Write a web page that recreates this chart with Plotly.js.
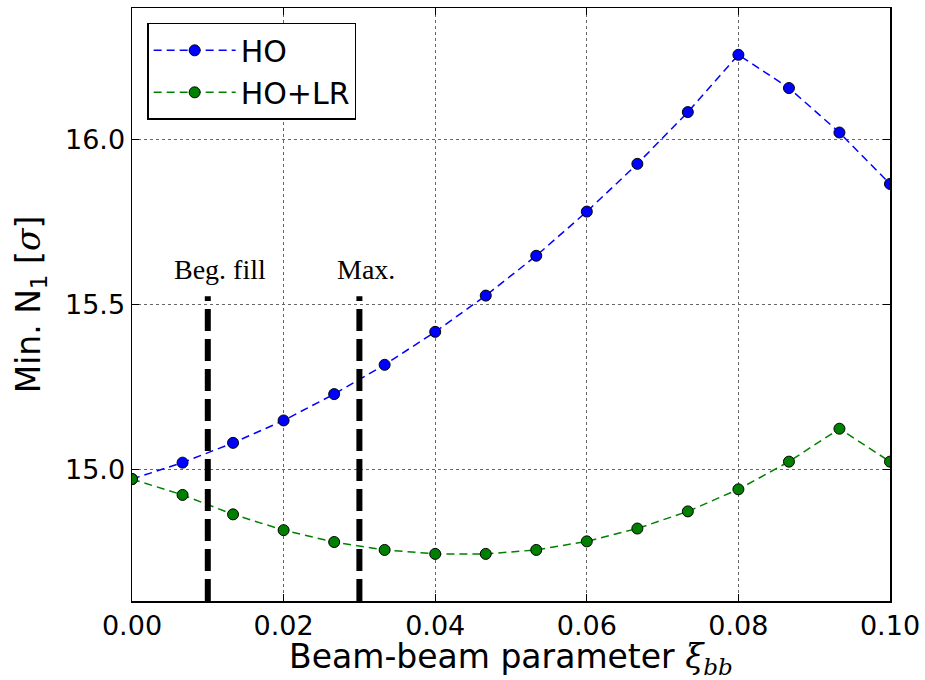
<!DOCTYPE html>
<html>
<head>
<meta charset="utf-8">
<script src="https://cdn.plot.ly/plotly-3.0.1.min.js"></script>
<style>html,body{margin:0;padding:0;background:#fff;}#chart{width:925px;height:680px;}</style>
</head>
<body>
<div id="chart"></div>
<script>
// Data
const xi = [0, 0.00667, 0.01333, 0.02, 0.02667, 0.03333, 0.04, 0.04667, 0.05333, 0.06, 0.06667, 0.07333, 0.08, 0.08667, 0.09333, 0.10];
const hoValues = [14.97, 15.02, 15.08, 15.148, 15.228, 15.317, 15.417, 15.527, 15.648, 15.782, 15.927, 16.084, 16.258, 16.157, 16.022, 15.866];
const holrValues = [14.97, 14.922, 14.863, 14.815, 14.779, 14.755, 14.743, 14.743, 14.755, 14.781, 14.820, 14.872, 14.939, 15.023, 15.123, 15.023];
const seriesNames = ['HO', 'HO+LR'];
const markerX = [0.01, 0.03];
const markerLabels = ['Beg. fill', 'Max.'];
const markerLabelX = [0.0116, 0.0309];
const markerTop = 15.525;
const yMin = 14.6, yMax = 16.4;
const yTicks = [15.0, 15.5, 16.0];

const traces = [
  {x: xi, y: hoValues, name: seriesNames[0], mode: 'lines+markers',
   line: {color: '#0000ff', width: 1.5, dash: '8px,5px'},
   marker: {color: '#0000ff', size: 11, line: {color: '#000', width: 1}}},
  {x: xi, y: holrValues, name: seriesNames[1], mode: 'lines+markers',
   line: {color: '#008000', width: 1.5, dash: '8px,5px'},
   marker: {color: '#008000', size: 11, line: {color: '#000', width: 1}}}
];
markerX.forEach(function(v){
  traces.push({x: [v, v], y: [yMin, markerTop], mode: 'lines', showlegend: false, hoverinfo: 'skip',
    line: {color: '#000', width: 6, dash: '22px,8px'}});
});

const annotations = markerLabels.map(function(t, i){
  return {x: markerLabelX[i], y: 15.606, xref: 'x', yref: 'y', text: t, showarrow: false,
    font: {family: 'Liberation Serif, serif', size: 28, color: '#000'}};
});

const axisCommon = {
  showline: true, linecolor: '#000', linewidth: 1.5, mirror: 'allticks',
  ticks: 'inside', ticklen: 7, tickwidth: 1, tickcolor: '#000',
  showgrid: true, gridcolor: '#666', gridwidth: 1, griddash: 'dot',
  zeroline: false, tickfont: {family: 'DejaVu Sans', size: 27, color: '#000'}
};

const layout = {
  width: 925, height: 680,
  margin: {l: 132, r: 35, t: 8, b: 79},
  paper_bgcolor: '#fff', plot_bgcolor: '#fff',
  showlegend: true,
  xaxis: Object.assign({}, axisCommon, {range: [0, 0.1], dtick: 0.02, tick0: 0, tickformat: '.2f',
    automargin: false,
    title: {text: 'Beam-beam parameter <span style="font-family:DejaVu Serif"><i>ξ</i><sub><i>bb</i></sub></span>',
      font: {family: 'DejaVu Sans', size: 33, color: '#000'}, standoff: 20}}),
  yaxis: Object.assign({}, axisCommon, {range: [yMin, yMax], tickvals: yTicks, tickformat: '.1f',
    title: {text: 'Min. N<sub>1</sub> [<span style="font-family:DejaVu Serif"><i>σ</i></span>]',
      font: {family: 'DejaVu Sans', size: 33, color: '#000'}, standoff: 14}}),
  legend: {x: 0.02, y: 0.975, xanchor: 'left', yanchor: 'top', bgcolor: '#fff',
    bordercolor: '#000', borderwidth: 1.5, traceorder: 'normal',
    itemwidth: 82, font: {family: 'DejaVu Sans', size: 30, color: '#000'}},
  annotations: annotations
};

Plotly.newPlot('chart', traces, layout, {displayModeBar: false, staticPlot: true});
</script>
</body>
</html>
